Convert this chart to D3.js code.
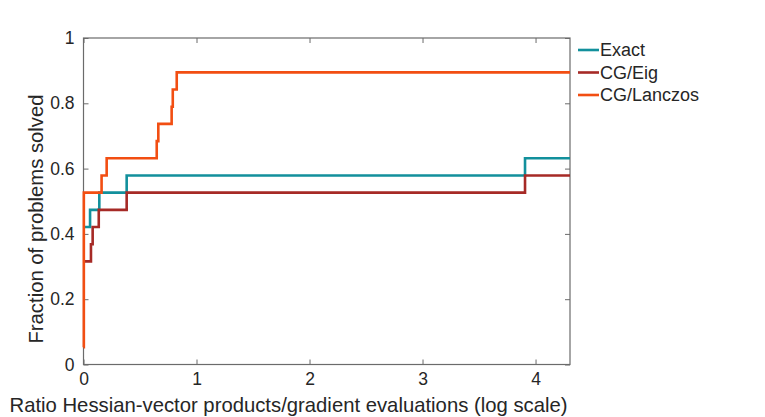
<!DOCTYPE html>
<html lang="en">
  <head>
    <meta charset="utf-8" />
    <title>Performance profile</title>
    <script src="https://d3js.org/d3.v7.min.js"></script>
    <style>
      body {
        margin: 0;
        background: #fff;
      }
      svg text {
        font-family: "Liberation Sans", Arial, sans-serif;
        fill: #262626;
      }
      .label {
        font-size: 20.3px;
      }
      .legend {
        font-size: 18px;
      }
      .frame {
        fill: none;
        stroke: #6b6b6b;
        stroke-width: 1.2;
      }
      .series {
        fill: none;
        stroke-width: 2.6;
      }
    </style>
  </head>
  <body>
    <svg width="765" height="417"></svg>
    <script>
      // 19 test problems; values are counts of problems solved
      const nProblems = 19;
      const seriesNames = ["Exact", "CG/Eig", "CG/Lanczos"];
      const seriesColors = ["#12909c", "#a62a26", "#f24e12"];

      const exactX = [0, 0.058, 0.14, 0.382, 3.907, 4.305];
      const exactSolved = [8, 9, 10, 11, 12, 12];

      const eigX = [0, 0.066, 0.081, 0.135, 0.382, 3.907, 4.305];
      const eigSolved = [6, 7, 8, 9, 10, 11, 11];

      const lanczosX = [0, 0.003, 0.16, 0.205, 0.648, 0.662, 0.78, 0.79, 0.825, 4.305];
      const lanczosSolved = [1, 10, 11, 12, 13, 14, 15, 16, 17, 17];

      const xTicks = [0, 1, 2, 3, 4];
      const yTicks = [0, 0.2, 0.4, 0.6, 0.8, 1];

      const svg = d3.select("svg");
      const plot = { left: 83.5, right: 570, top: 38, bottom: 364.5 };

      const x = d3.scaleLinear().domain([0, 4.305]).range([plot.left, plot.right]);
      const y = d3.scaleLinear().domain([0, 1]).range([plot.bottom, plot.top]);

      const series = [
        { name: seriesNames[0], xs: exactX, ys: exactSolved },
        { name: seriesNames[1], xs: eigX, ys: eigSolved },
        { name: seriesNames[2], xs: lanczosX, ys: lanczosSolved },
      ].map((s, i) => ({
        ...s,
        color: seriesColors[i],
        points: s.xs.map((v, j) => [v, s.ys[j] / nProblems]),
      }));

      const line = d3
        .line()
        .curve(d3.curveStepAfter)
        .x((d) => x(d[0]))
        .y((d) => y(d[1]));

      // Axis box with inward ticks on all sides (MATLAB style)
      const tickLen = 5;
      const fmt = (d) => String(+d.toFixed(1));
      const axes = svg.append("g");

      const styleAxis = (g) => {
        g.attr("font-size", null).attr("font-family", null);
        g.select(".domain").remove();
        g.selectAll("line").attr("stroke", "#6b6b6b");
        g.selectAll("text")
          .attr("fill", "#262626")
          .style("font-size", "17.5px")
          .style("font-family", '"Liberation Sans", Arial, sans-serif');
      };

      axes
        .append("g")
        .attr("transform", `translate(0,${plot.bottom})`)
        .call(d3.axisBottom(x).tickValues(xTicks).tickSize(-tickLen).tickPadding(8).tickFormat(fmt))
        .call(styleAxis);

      axes
        .append("g")
        .attr("transform", `translate(0,${plot.top})`)
        .call(d3.axisTop(x).tickValues(xTicks).tickSize(-tickLen).tickFormat(""))
        .call(styleAxis);

      axes
        .append("g")
        .attr("transform", `translate(${plot.left},0)`)
        .call(d3.axisLeft(y).tickValues(yTicks).tickSize(-tickLen).tickPadding(9).tickFormat(fmt))
        .call(styleAxis);

      axes
        .append("g")
        .attr("transform", `translate(${plot.right},0)`)
        .call(d3.axisRight(y).tickValues(yTicks).tickSize(-tickLen).tickFormat(""))
        .call(styleAxis);

      svg
        .append("rect")
        .attr("class", "frame")
        .attr("x", plot.left)
        .attr("y", plot.top)
        .attr("width", plot.right - plot.left)
        .attr("height", plot.bottom - plot.top);

      // Step curves
      svg
        .append("g")
        .selectAll("path")
        .data(series)
        .join("path")
        .attr("class", "series")
        .attr("stroke", (d) => d.color)
        .attr("d", (d) => line(d.points));

      // Axis labels
      svg
        .append("text")
        .attr("class", "label")
        .attr("x", 288.5)
        .attr("y", 412)
        .attr("text-anchor", "middle")
        .text("Ratio Hessian-vector products/gradient evaluations (log scale)");

      svg
        .append("text")
        .attr("class", "label")
        .attr("transform", "translate(43,219) rotate(-90)")
        .attr("text-anchor", "middle")
        .text("Fraction of problems solved");

      // Legend
      const legend = svg
        .append("g")
        .selectAll("g")
        .data(series)
        .join("g")
        .attr("transform", (d, i) => `translate(578,${50 + i * 22.5})`);

      legend
        .append("line")
        .attr("x1", 0)
        .attr("x2", 21)
        .attr("stroke", (d) => d.color)
        .attr("stroke-width", 2.6);

      legend
        .append("text")
        .attr("class", "legend")
        .attr("x", 22)
        .attr("y", 6.3)
        .text((d) => d.name);
    </script>
  </body>
</html>
